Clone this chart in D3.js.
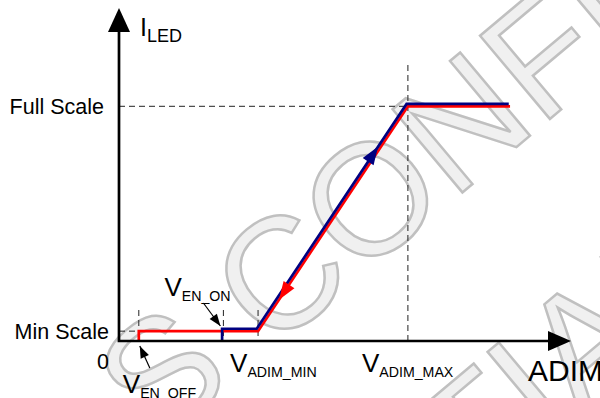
<!DOCTYPE html>
<html>
<head>
<meta charset="utf-8">
<script src="https://cdn.jsdelivr.net/npm/d3@7"></script>
<style>
body { margin: 0; background: #fff; }
svg { display: block; font-family: "Liberation Sans", Arial, sans-serif; }
</style>
</head>
<body>
<svg width="600" height="398"></svg>
<script>
// thresholds on the ADIM axis (relative units 0-100)
var thresholdNames = ["EN_OFF", "EN_ON", "ADIM_MIN", "ADIM_MAX"];
var thresholdValues = [4.4, 23.2, 30.9, 64.2];

// ILED levels (percent of full scale)
var levelLabels = ["0", "Min Scale", "Full Scale"];
var levelValues = [0, 4.2, 100];

// rising ADIM (blue) and falling ADIM (red) curves
var risingX = [23.2, 23.2, 30.9, 64.2, 86.9];
var risingY = [0, 4.2, 4.2, 100, 100];
var fallingX = [86.9, 64.2, 30.9, 4.4, 4.4];
var fallingY = [100, 100, 4.2, 4.2, 0];

var svg = d3.select("svg");

var x = d3.scaleLinear().domain([0, 100]).range([119, 569]);
var y = d3.scaleLinear().domain([0, 100]).range([341, 106.3]);

// watermark
var wm = svg.append("g")
  .attr("fill", "#f0f0f0")
  .attr("stroke", "#c0c0c0")
  .attr("stroke-width", 2.5)
  .style("font-size", "158px");
wm.append("text").attr("transform", "translate(271,353) rotate(-40)").text("CONFIDENTIAL");
wm.append("text").attr("transform", "translate(237,381) rotate(-40)").attr("text-anchor", "end").text("S");
wm.append("text").attr("transform", "translate(728,292) rotate(-40)").attr("text-anchor", "end").text("CONFIDENTIAL");

// dashed guides
var guides = svg.append("g")
  .attr("stroke", "#222")
  .attr("stroke-width", 1)
  .attr("stroke-dasharray", "6,4")
  .attr("fill", "none");

guides.selectAll("line.v").data(thresholdValues).enter()
  .append("line")
  .attr("class", "v")
  .attr("x1", function(d){ return x(d) })
  .attr("x2", function(d){ return x(d) })
  .attr("y1", function(d, i){ return i == 3 ? 65 : 310 })
  .attr("y2", y(0));

guides.append("line")
  .attr("x1", x(0)).attr("x2", x(thresholdValues[0]))
  .attr("y1", y(levelValues[1])).attr("y2", y(levelValues[1]));
guides.append("line")
  .attr("x1", x(0)).attr("x2", x(thresholdValues[3]))
  .attr("y1", y(levelValues[2])).attr("y2", y(levelValues[2]));

// curves
function pts(xs, ys) {
  return xs.map(function(v, i){ return [v, ys[i]] });
}

function curve(data, color, dx, dy) {
  var line = d3.line()
    .x(function(d){ return x(d[0]) + dx })
    .y(function(d){ return y(d[1]) + (d[1] > 0 ? dy : 0) });
  svg.append("path")
    .attr("d", line(data))
    .attr("fill", "none")
    .attr("stroke", color)
    .attr("stroke-width", 2.7)
    .attr("stroke-linejoin", "miter");
}

function head(tip, from, len, w, color) {
  var ang = Math.atan2(tip[1] - from[1], tip[0] - from[0]);
  var c = Math.cos(ang), s = Math.sin(ang);
  var bx = tip[0] - len * c, by = tip[1] - len * s;
  var p = [tip, [bx - w / 2 * s, by + w / 2 * c], [bx + w / 2 * s, by - w / 2 * c]];
  svg.append("path")
    .attr("d", "M" + p.join("L") + "Z")
    .attr("fill", color);
}

var falling = pts(fallingX, fallingY);
var rising = pts(risingX, risingY);
curve(falling, "#ff0000", 0, 0);
curve(rising, "#000080", -1.3, -2.4);

// arrowheads along the ramp
var lo = [x(thresholdValues[2]), y(levelValues[1])];
var hi = [x(thresholdValues[3]), y(levelValues[2])];
function along(t, dx, dy) {
  return [lo[0] + (hi[0] - lo[0]) * t + dx, lo[1] + (hi[1] - lo[1]) * t + dy];
}
head(along(0.81, -1.3, -2.4), along(0.7, -1.3, -2.4), 18, 13, "#000080");
head(along(0.14, 0, 0), along(0.25, 0, 0), 18, 13, "#ff0000");

// axes
var axes = svg.append("g");
axes.append("path")
  .attr("d", "M119,342.3V30M117.6,341H552")
  .attr("stroke", "#000")
  .attr("stroke-width", 2.7)
  .attr("fill", "none");
axes.append("path").attr("d", "M108,32L119,8L130,32Z").attr("fill", "#000");
axes.append("path").attr("d", "M548,331L571,341L548,351Z").attr("fill", "#000");

var yAxis = svg.append("g")
  .attr("transform", "translate(119,0)")
  .call(d3.axisLeft(y)
    .tickValues(levelValues)
    .tickSize(0)
    .tickPadding(10)
    .tickFormat(function(d, i){ return levelLabels[i] }));
yAxis.select(".domain").remove();
yAxis.attr("font-family", null).attr("font-size", null);
yAxis.selectAll("text")
  .style("font-size", "21.5px")
  .attr("fill", "#000")
  .attr("x", function(d, i){ return i == 2 ? -15 : -10 })
  .attr("y", function(d, i){ return i == 0 ? 21 : 0 });

// axis titles
var t1 = svg.append("text").attr("x", 140).attr("y", 36).style("font-size", "25px");
t1.append("tspan").text("I");
t1.append("tspan").attr("dy", 6).style("font-size", "18px").text("LED");

svg.append("text").attr("x", 528).attr("y", 381).style("font-size", "30px").text("ADIM");

// threshold labels: offset of the V from the guide, baseline
var labelDx = [-16, -59, -28, -46];
var labelY = [393, 296, 372, 372];

svg.selectAll("text.vlab").data(thresholdNames).enter()
  .append("text")
  .attr("class", "vlab")
  .attr("x", function(d, i){ return x(thresholdValues[i]) + labelDx[i] })
  .attr("y", function(d, i){ return labelY[i] })
  .style("font-size", "26px")
  .each(function(d){
    var t = d3.select(this);
    t.append("tspan").text("V");
    t.append("tspan").attr("dy", 5).style("font-size", "14.2px").text(d);
  });

// pointer arrows for EN_ON and EN_OFF
function pointer(from, tip) {
  svg.append("line")
    .attr("x1", from[0]).attr("y1", from[1])
    .attr("x2", tip[0]).attr("y2", tip[1])
    .attr("stroke", "#000").attr("stroke-width", 1.2);
  head(tip, from, 12, 9, "#000");
}
pointer([x(thresholdValues[1]) - 20, 303], [x(thresholdValues[1]) - 3, 326]);
pointer([x(thresholdValues[0]) + 11, 368], [x(thresholdValues[0]) + 1, 346]);
</script>
</body>
</html>
